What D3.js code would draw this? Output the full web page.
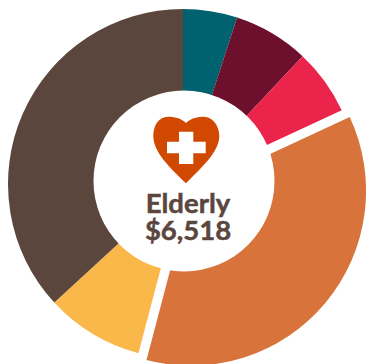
<!DOCTYPE html>
<html>
<head>
<meta charset="utf-8">
<script src="https://d3js.org/d3.v7.min.js"></script>
<style>
  html, body { margin: 0; padding: 0; background: #fff; }
  svg { display: block; }
  .centerText { font-family: Lato, sans-serif; font-weight: 700; font-size: 27.5px; fill: #5b463e; stroke: #5b463e; stroke-width: 0.5px; text-anchor: middle; }
</style>
</head>
<body>
<div id="chart"></div>
<script>
var categories = ["teal", "maroon", "red", "orange", "yellow", "brown"];
var amounts = [326, 454, 398, 2348, 590, 2402];
var colors = ["#00626f", "#6d102d", "#ea244b", "#d9733c", "#fbb84a", "#5b463e"];
var explodedCategory = "orange";
var centerLabels = ["Elderly", "$6,518"];

var svgWidth = 366;
var svgHeight = 364;

var svg = d3.select("#chart")
    .append("svg")
    .attr("width", svgWidth)
    .attr("height", svgHeight);

var chartGroup = svg.append("g")
    .attr("transform", "translate(183, 184)");

var pie = d3.pie().sort(null).value(function(d, i) { return amounts[i]; });
var arc = d3.arc().innerRadius(70).outerRadius(175);
var explode = 10.5;

chartGroup.selectAll("path")
    .data(pie(categories))
    .enter()
    .append("path")
    .attr("d", arc)
    .attr("fill", function(d) { return colors[d.index]; })
    .attr("transform", function(d) {
        if (d.data !== explodedCategory) return null;
        var mid = (d.startAngle + d.endAngle) / 2;
        return "translate(" + (Math.sin(mid) * explode) + "," + (-Math.cos(mid) * explode) + ")";
    });

// white hole sits slightly above the ring centre
svg.append("circle")
    .attr("cx", 184)
    .attr("cy", 181)
    .attr("r", 90.5)
    .attr("fill", "#fff");

// heart icon
svg.append("path")
    .attr("d", "M186,123 C181,118 174,116.7 168,116.7 C159,116.7 153.3,125 153.3,136 C153.3,152 170,168 186,183.3 C201,168 219.3,152 219.3,136 C219.3,125 212,116.7 204,116.7 C198,116.7 191,118 186,123 Z")
    .attr("fill", "#d14900");

svg.append("path")
    .attr("d", "M179,131.7 H193.3 V141.7 H205.7 V153.3 H193.3 V164 H179 V153.3 H167 V141.7 H179 Z")
    .attr("fill", "#fff");

// both lines in one text element, the line spacing is tight
svg.append("text")
    .attr("class", "centerText")
    .attr("y", 213)
    .selectAll("tspan")
    .data(centerLabels)
    .enter()
    .append("tspan")
    .attr("x", 188)
    .attr("y", function(d, i) { return 213 + i * 27; })
    .text(function(d) { return d; });
</script>
</body>
</html>
